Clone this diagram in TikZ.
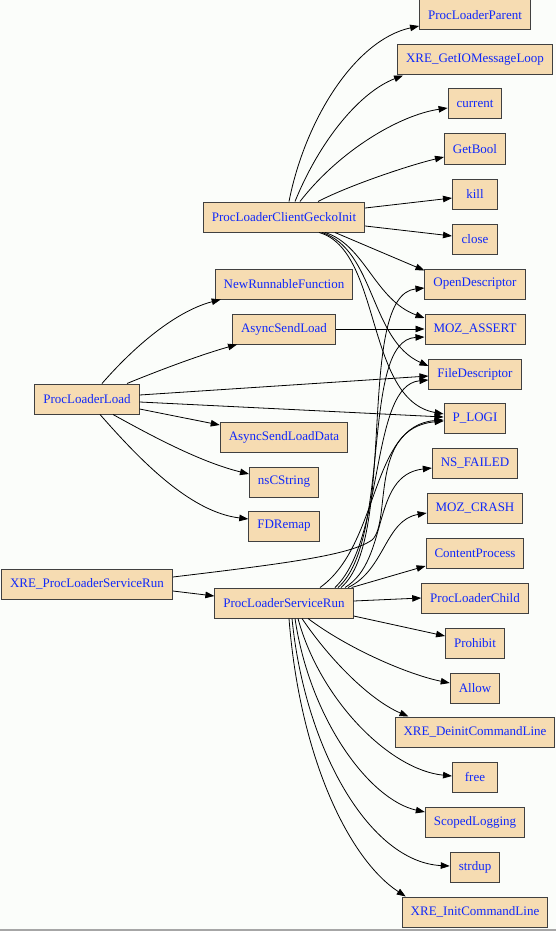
\documentclass[tikz,border=0pt]{standalone}
\usepackage{fontspec}
\setmainfont{Liberation Serif}
\usetikzlibrary{arrows.meta}

\definecolor{wheatfill}{RGB}{246,220,178}
\definecolor{bgpaper}{RGB}{251,253,250}
\definecolor{fnblue}{RGB}{16,40,250}

\tikzset{
  fn/.style={draw=black!75,line width=1pt,fill=wheatfill,text=fnblue,
    minimum width=45pt,minimum height=30pt,inner xsep=8.5pt,inner ysep=0pt,
    font=\fontsize{13}{15}\selectfont},
  call/.style={-{Triangle[length=9pt,width=6.5pt]},line width=0.8pt,black}
}

\begin{document}
\begin{tikzpicture}[x=1pt,y=-1pt]
    \useasboundingbox (0,0) rectangle (556,931);
    \fill [bgpaper] (0,0) rectangle (556,931);
    \draw [gray!70,line width=1.5pt] (0,930)--(556,930);

    \node[fn] (parent)   at (475,15)  {ProcLoaderParent};
    \node[fn] (getio)    at (475,60)  {XRE\_GetIOMessageLoop};
    \node[fn] (current)  at (475,104) {current};
    \node[fn] (getbool)  at (475,149) {GetBool};
    \node[fn] (kill)     at (475,194) {kill};
    \node[fn] (close)    at (475,239) {close};
    \node[fn] (opendesc) at (475,284) {OpenDescriptor};
    \node[fn] (assert)   at (475,329) {MOZ\_ASSERT};
    \node[fn] (filedesc) at (475,374) {FileDescriptor};
    \node[fn] (logi)     at (475,418) {P\_LOGI};
    \node[fn] (failed)   at (475,463) {NS\_FAILED};
    \node[fn] (crash)    at (475,508) {MOZ\_CRASH};
    \node[fn] (content)  at (475,553) {ContentProcess};
    \node[fn] (child)    at (475,598) {ProcLoaderChild};
    \node[fn] (prohibit) at (475,643) {Prohibit};
    \node[fn] (allow)    at (475,688) {Allow};
    \node[fn] (deinit)   at (475,732) {XRE\_DeinitCommandLine};
    \node[fn] (free)     at (475,777) {free};
    \node[fn] (scoped)   at (475,822) {ScopedLogging};
    \node[fn] (strdup)   at (475,867) {strdup};
    \node[fn] (initcl)   at (475,912) {XRE\_InitCommandLine};

    \node[fn] (gecko)    at (284,217) {ProcLoaderClientGeckoInit};
    \node[fn] (newrun)   at (284,284) {NewRunnableFunction};
    \node[fn] (sendload) at (284,329) {AsyncSendLoad};
    \node[fn] (loaddata) at (284,437) {AsyncSendLoadData};
    \node[fn] (nscstr)   at (284,482) {nsCString};
    \node[fn] (fdremap)  at (284,526) {FDRemap};
    \node[fn] (srvrun)   at (284,603) {ProcLoaderServiceRun};

    \node[fn] (load)     at (87,399)  {ProcLoaderLoad};
    \node[fn] (xrerun)   at (87,584)  {XRE\_ProcLoaderServiceRun};

    \draw [call] ([xshift=5pt]gecko.north) .. controls (305,120) and (355,40) .. ([yshift=-11pt]parent.west);
    \draw [call] ([xshift=11pt]gecko.north) .. controls (320,140) and (360,92) .. ([xshift=6pt]getio.south west);
    \draw [call] ([xshift=16pt]gecko.north) .. controls (340,150) and (400,115) .. ([yshift=-4pt]current.west);
    \draw [call] ([xshift=34pt]gecko.north) .. controls (350,185) and (410,165) .. ([yshift=-8pt]getbool.west);
    \draw [call] ([yshift=9pt]gecko.east) -- ([yshift=-4pt]kill.west);
    \draw [call] ([yshift=-9pt]gecko.east) -- ([yshift=3pt]close.west);
    \draw [call] ([xshift=51pt]gecko.south) -- ([yshift=-2pt]opendesc.north west);
    \draw [call] ([xshift=41pt]gecko.south) .. controls (365,245) and (375,300) .. ([yshift=11pt]assert.west);
    \draw [call] ([xshift=38pt]gecko.south) .. controls (375,250) and (370,340) .. ([yshift=8pt]filedesc.west);
    \draw [call] ([xshift=35pt]gecko.south) .. controls (382,250) and (365,400) .. ([yshift=4pt]logi.west);

    \draw [call] ([xshift=15pt]load.north) .. controls (140,340) and (180,310) .. ([xshift=6pt]newrun.south west);
    \draw [call] ([xshift=40pt]load.north) .. controls (160,370) and (200,355) .. ([xshift=5pt]sendload.south west);
    \draw [call] ([yshift=4pt]load.east) -- ([yshift=-2pt]filedesc.west);
    \draw [call] ([yshift=-3pt]load.east) -- ([yshift=1pt]logi.west);
    \draw [call] ([yshift=-10pt]load.east) -- ([yshift=12pt]loaddata.west);
    \draw [call] ([xshift=26pt]load.south) .. controls (150,435) and (200,462) .. ([yshift=8pt]nscstr.west);
    \draw [call] ([xshift=13pt]load.south) .. controls (140,460) and (190,512) .. ([yshift=7pt]fdremap.west);
    \draw [call] (sendload.east) -- (assert.west);

    \draw [call] ([yshift=-7pt]xrerun.east) -- ([yshift=7pt]srvrun.west);
    \draw [call] ([yshift=7pt]xrerun.east) .. controls (290,563) and (350,555) .. (372,540)
        .. controls (392,522) and (368,428) .. ([yshift=-3pt]logi.west);

    \draw [call] ([xshift=36pt]srvrun.north) .. controls (380,545) and (370,425) .. ([yshift=-2pt]logi.west);
    \draw [call] ([xshift=51pt]srvrun.north) .. controls (385,540) and (370,385) .. ([yshift=-6pt]filedesc.west);
    \draw [call] ([xshift=54pt]srvrun.north) .. controls (392,540) and (360,340) .. ([yshift=-8pt]assert.west);
    \draw [call] ([xshift=57pt]srvrun.north) .. controls (398,540) and (355,295) .. ([yshift=-4pt]opendesc.west);
    \draw [call] ([xshift=61pt]srvrun.north) .. controls (390,560) and (370,475) .. ([yshift=-5pt]failed.west);
    \draw [call] ([xshift=64pt]srvrun.north) .. controls (385,570) and (385,520) .. ([yshift=-5pt]crash.west);
    \draw [call] ([xshift=-2pt]srvrun.north east) -- ([yshift=-13pt]content.west);
    \draw [call] ([yshift=2pt]srvrun.east) -- (child.west);
    \draw [call] ([yshift=-13pt]srvrun.east) -- ([yshift=7pt]prohibit.west);
    \draw [call] ([xshift=24pt]srvrun.south) .. controls (350,650) and (410,675) .. ([yshift=5pt]allow.west);
    \draw [call] ([xshift=18pt]srvrun.south) .. controls (330,660) and (370,700) .. ([xshift=14pt]deinit.north west);
    \draw [call] ([xshift=14pt]srvrun.south) .. controls (320,700) and (390,770) .. ([yshift=1pt]free.west);
    \draw [call] ([xshift=11pt]srvrun.south) .. controls (310,720) and (370,800) .. ([yshift=10pt]scoped.west);
    \draw [call] ([xshift=8pt]srvrun.south) .. controls (305,750) and (370,862) .. ([yshift=1pt]strdup.west);
    \draw [call] ([xshift=5pt]srvrun.south) .. controls (300,760) and (350,860) .. ([xshift=4pt]initcl.north west);
\end{tikzpicture}
\end{document}
